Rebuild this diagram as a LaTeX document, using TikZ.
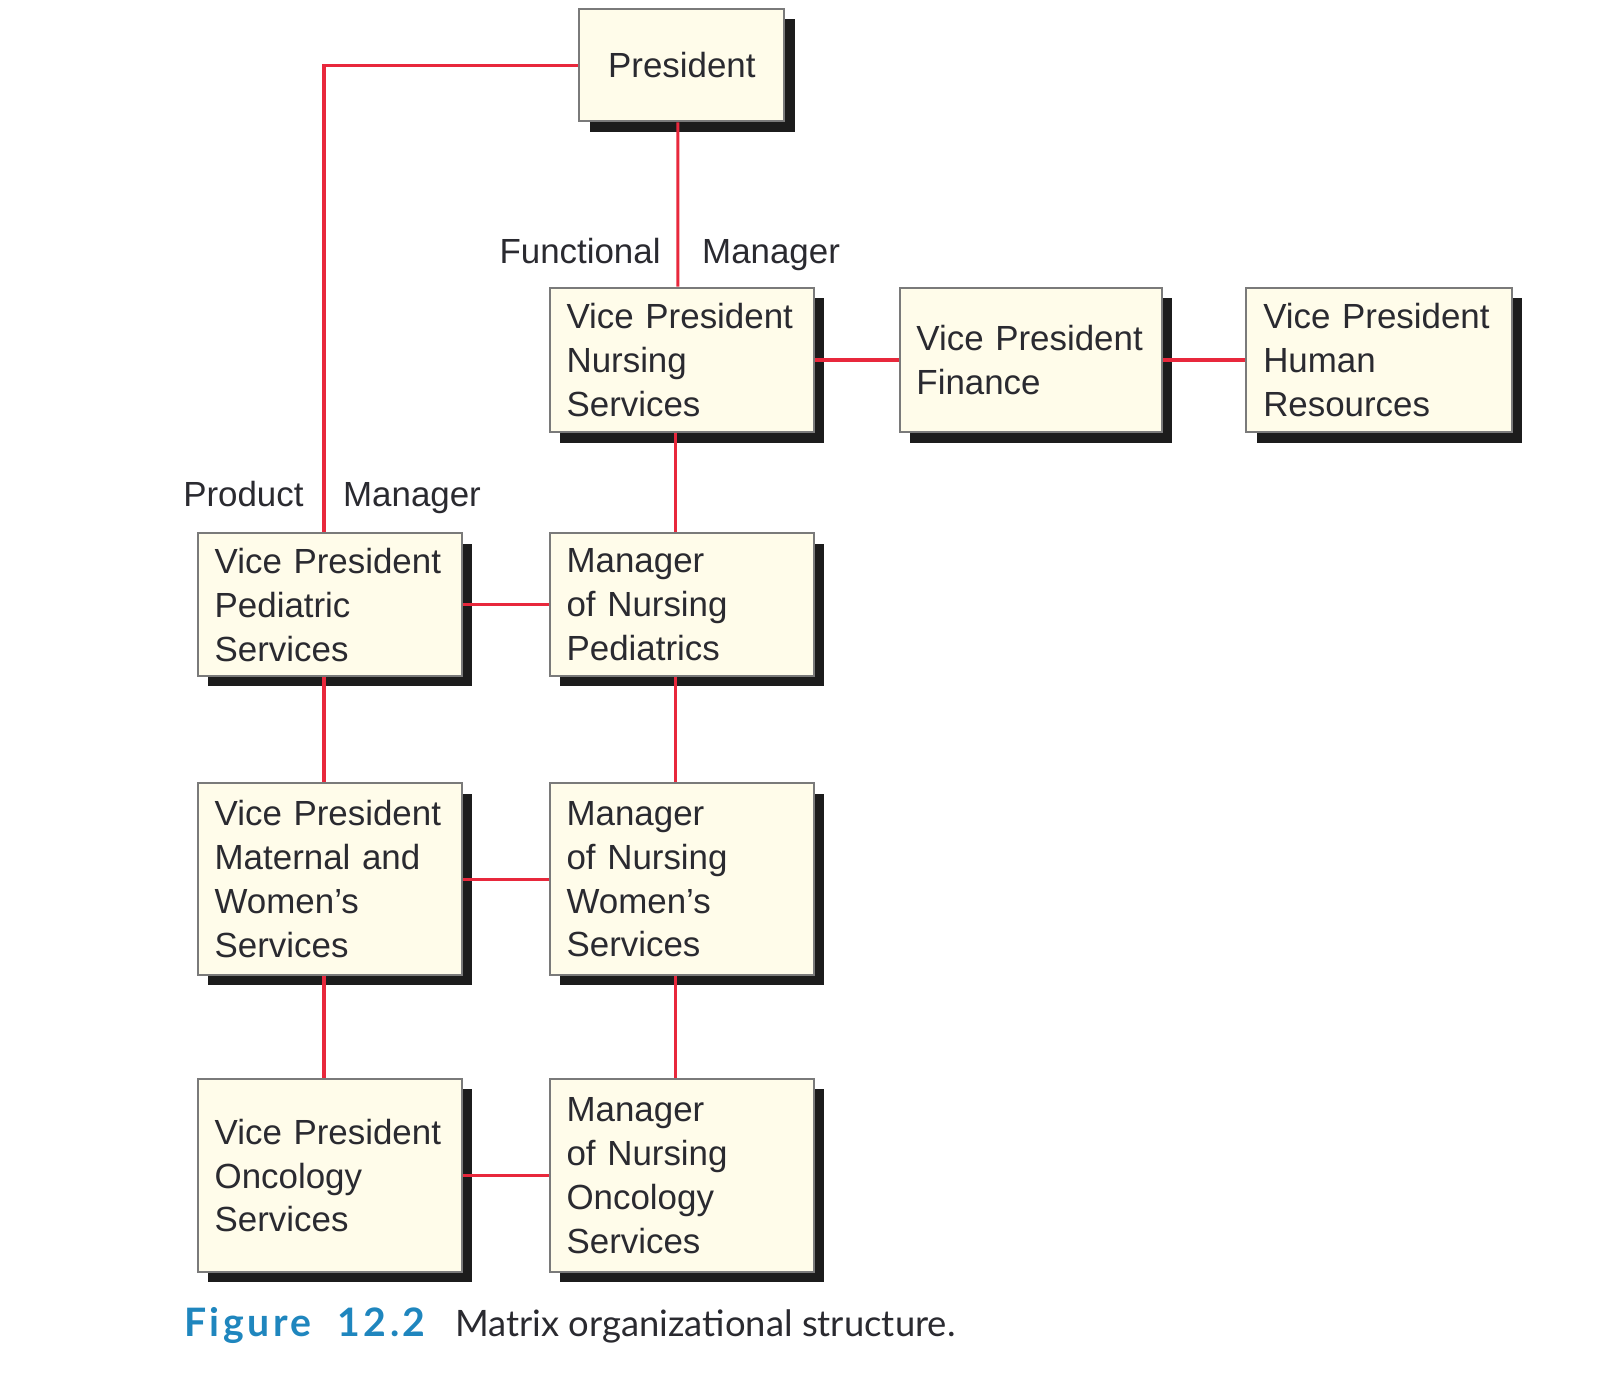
\documentclass[tikz,border=0pt]{standalone}
\usepackage{fontspec}
\setmainfont{Liberation Sans}
\newfontfamily\capfont{Lato}
\newfontfamily\figfont[LetterSpace=9.0]{Lato}
\usetikzlibrary{shadows}
\definecolor{boxfill}{HTML}{FFFCEA}
\definecolor{boxgray}{HTML}{7A7A7A}
\definecolor{shadowc}{HTML}{1C1C1C}
\definecolor{linkred}{HTML}{E8283C}
\definecolor{txt}{HTML}{2A2A30}
\definecolor{figblue}{HTML}{1F86BE}
\tikzset{
  box/.style={draw=boxgray, line width=1pt, fill=boxfill, text=txt, align=left,
    text width=115.3pt, inner xsep=8.4pt, inner ysep=0pt, anchor=north west,
    font=\fontsize{17.45}{21.95}\selectfont,
    drop shadow={shadow xshift=5.1pt, shadow yshift=-5.1pt, fill=shadowc, opacity=1}},
  link/.style={draw=linkred, line width=1.6pt},
  lbl/.style={inner sep=0pt, text=txt, font=\fontsize{17.45}{21.95}\selectfont}
}
\begin{document}
\begin{tikzpicture}[x=0.51pt,y=-0.51pt]
\useasboundingbox (0,0) rectangle (1568.6,1352.9);
% boxes
\node[box, text width=85.7pt, align=center, minimum height=56.1pt] (pres) at (567,8) {President};
\node[box, minimum height=72.4pt] (vpn) at (538,281) {Vice President\\Nursing\\Services};
\node[box, minimum height=72.4pt, text width=114.2pt] (fin) at (881,281) {Vice President\\Finance};
\node[box, minimum height=72.4pt, text width=115.8pt] (hr) at (1221,281) {Vice President\\Human\\Resources};
\node[box, minimum height=71.4pt] (vpp) at (193,522) {Vice President\\Pediatric\\Services};
\node[box, minimum height=71.4pt] (mp) at (538,522) {Manager\\of Nursing\\Pediatrics};
\node[box, minimum height=95.9pt] (vpm) at (193,767) {Vice President\\Maternal and\\Women’s\\Services};
\node[box, minimum height=95.9pt] (mw) at (538,767) {Manager\\of Nursing\\Women’s\\Services};
\node[box, minimum height=96.4pt] (vpo) at (193,1057) {Vice President\\Oncology\\Services};
\node[box, minimum height=96.4pt] (mo) at (538,1057) {Manager\\of Nursing\\Oncology\\Services};
% connectors
\draw[link] (pres.west) -| ([xshift=-3pt]vpp.north);
\draw[link] ([xshift=-2pt]pres.south) -- ([xshift=-2pt]vpn.north);
\draw[link] (vpn.east) -- (fin.west);
\draw[link] (fin.east) -- (hr.west);
\draw[link] ([xshift=-3pt]vpn.south) -- ([xshift=-3pt]mp.north);
\draw[link] (vpp.east) -- (mp.west);
\draw[link] ([xshift=-3pt]vpp.south) -- ([xshift=-3pt]vpm.north);
\draw[link] ([xshift=-3pt]mp.south) -- ([xshift=-3pt]mw.north);
\draw[link] (vpm.east) -- (mw.west);
\draw[link] ([xshift=-3pt]vpm.south) -- ([xshift=-3pt]vpo.north);
\draw[link] ([xshift=-3pt]mw.south) -- ([xshift=-3pt]mo.north);
\draw[link] (vpo.east) -- (mo.west);
% labels
\node[lbl, anchor=base east] (lfun) at (648,258) {Functional};
\node[lbl, anchor=base west] (lfm) at (688,258) {Manager};
\node[lbl, anchor=base east] (lprod) at (298,497) {Product};
\node[lbl, anchor=base west] (lpm) at (336,497) {Manager};
% caption
\node[inner sep=0pt, anchor=base west, text=figblue, font=\figfont\bfseries\fontsize{19.6}{22}\selectfont] (fig) at (180,1310) {Figure\hspace{13pt}12.2};
\node[inner sep=0pt, anchor=base west, text=txt, font=\capfont\fontsize{18.2}{22}\selectfont] (cap) at (446,1310) {Matrix organizational structure.};
\end{tikzpicture}
\end{document}
